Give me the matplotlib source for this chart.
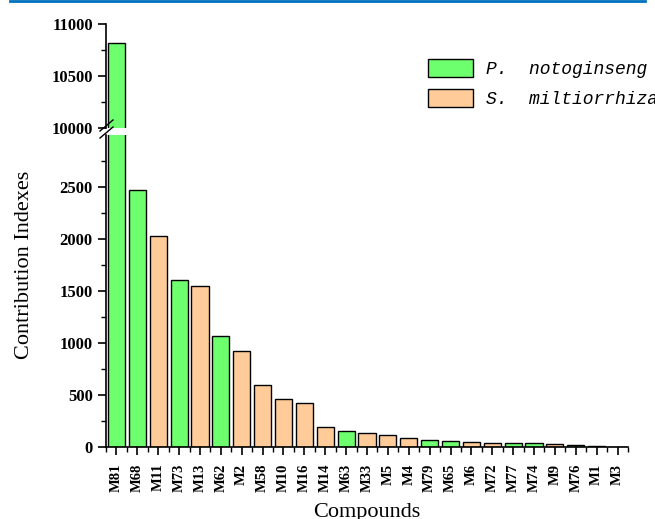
import matplotlib
matplotlib.use("Agg")
import matplotlib.pyplot as plt
import numpy as np
from matplotlib.patches import Patch
from matplotlib.lines import Line2D
from matplotlib.ticker import MultipleLocator, FixedLocator

compounds = ['M81', 'M68', 'M11', 'M73', 'M13', 'M62', 'M2', 'M58', 'M10', 'M16',
             'M14', 'M63', 'M33', 'M5', 'M4', 'M79', 'M65', 'M6', 'M72', 'M77',
             'M74', 'M9', 'M76', 'M1', 'M3']
values = [10820, 2470, 2030, 1610, 1550, 1065, 920, 598, 460, 422,
          196, 150, 138, 118, 82, 72, 62, 45, 42, 38,
          36, 33, 22, 12, 3]
source = ['P', 'P', 'S', 'P', 'S', 'P', 'S', 'S', 'S', 'S',
          'S', 'P', 'S', 'S', 'S', 'P', 'P', 'S', 'S', 'P',
          'P', 'S', 'P', 'S', 'S']

green = '#6EFF6E'
orange = '#FFCC99'
colors = [green if s == 'P' else orange for s in source]

serif = 'Liberation Serif'

fig = plt.figure(figsize=(6.55, 5.19), dpi=100)
L, W = 106/655, 522/655
ax = fig.add_axes([L, 1 - 447/519, W, 312/519])
ax_top = fig.add_axes([L, 1 - 128/519, W, 104/519])

x = np.arange(len(compounds))
for a in (ax, ax_top):
    a.bar(x, values, width=0.82, color=colors, edgecolor='black', linewidth=1.0)
    a.set_xlim(-0.5, 24.5)
    a.spines['top'].set_visible(False)
    a.spines['right'].set_visible(False)
    a.spines['left'].set_linewidth(1.2)
    a.tick_params(axis='y', which='major', direction='out', length=6, width=1.2)
    a.tick_params(axis='y', which='minor', direction='out', length=3.5, width=1.0)

ax.set_ylim(0, 3000)
ax.yaxis.set_major_locator(FixedLocator([0, 500, 1000, 1500, 2000, 2500]))
ax.yaxis.set_minor_locator(FixedLocator([250, 750, 1250, 1750, 2250, 2750]))
ax_top.set_ylim(10000, 11000)
ax_top.yaxis.set_major_locator(FixedLocator([10000, 10500, 11000]))
ax_top.yaxis.set_minor_locator(FixedLocator([10250, 10750]))

ax_top.spines['bottom'].set_visible(False)
ax_top.set_xticks([])
ax.spines['bottom'].set_linewidth(1.2)

ax.set_xticks(x)
ax.set_xticklabels(compounds, rotation=90, fontfamily=serif, fontweight='bold', fontsize=10.5)
ax.xaxis.set_minor_locator(MultipleLocator(1, offset=0.5))
ax.tick_params(axis='x', which='major', direction='out', length=6, width=1.2, pad=6)
ax.tick_params(axis='x', which='minor', direction='out', length=3.5, width=1.0)

for a in (ax, ax_top):
    for lab in a.get_yticklabels():
        lab.set_fontfamily(serif)
        lab.set_fontweight('bold')
        lab.set_fontsize(12)

fig.text(25/655, 1 - 265/519, 'Contribution Indexes', rotation=90, ha='center', va='center',
         fontfamily=serif, fontsize=16)
fig.text(367/655, 1 - 513/519, 'Compounds', ha='center', va='center',
         fontfamily=serif, fontsize=16)

# axis break marks
for yb in (124, 131):
    fig.add_artist(Line2D([100/655, 113/655], [1 - (yb + 7)/519, 1 - (yb - 4)/519],
                          color='black', linewidth=1.0))

# blue rule at top
fig.add_artist(Line2D([10/655, 645/655], [1 - 1/519, 1 - 1/519], color='#0070C0', linewidth=2))

handles = [Patch(facecolor=green, edgecolor='black', linewidth=1.0),
           Patch(facecolor=orange, edgecolor='black', linewidth=1.0)]
fig.legend(handles, ['P.  notoginseng', 'S.  miltiorrhiza'], loc='upper left',
           bbox_to_anchor=(428/655, 1 - 59/519), frameon=False, borderpad=0, borderaxespad=0,
           handlelength=2.5, handleheight=1.17, handletextpad=0.72, labelspacing=0.6,
           prop={'family': 'Liberation Mono', 'style': 'italic', 'size': 13})

fig.savefig('out.png', dpi=100)
